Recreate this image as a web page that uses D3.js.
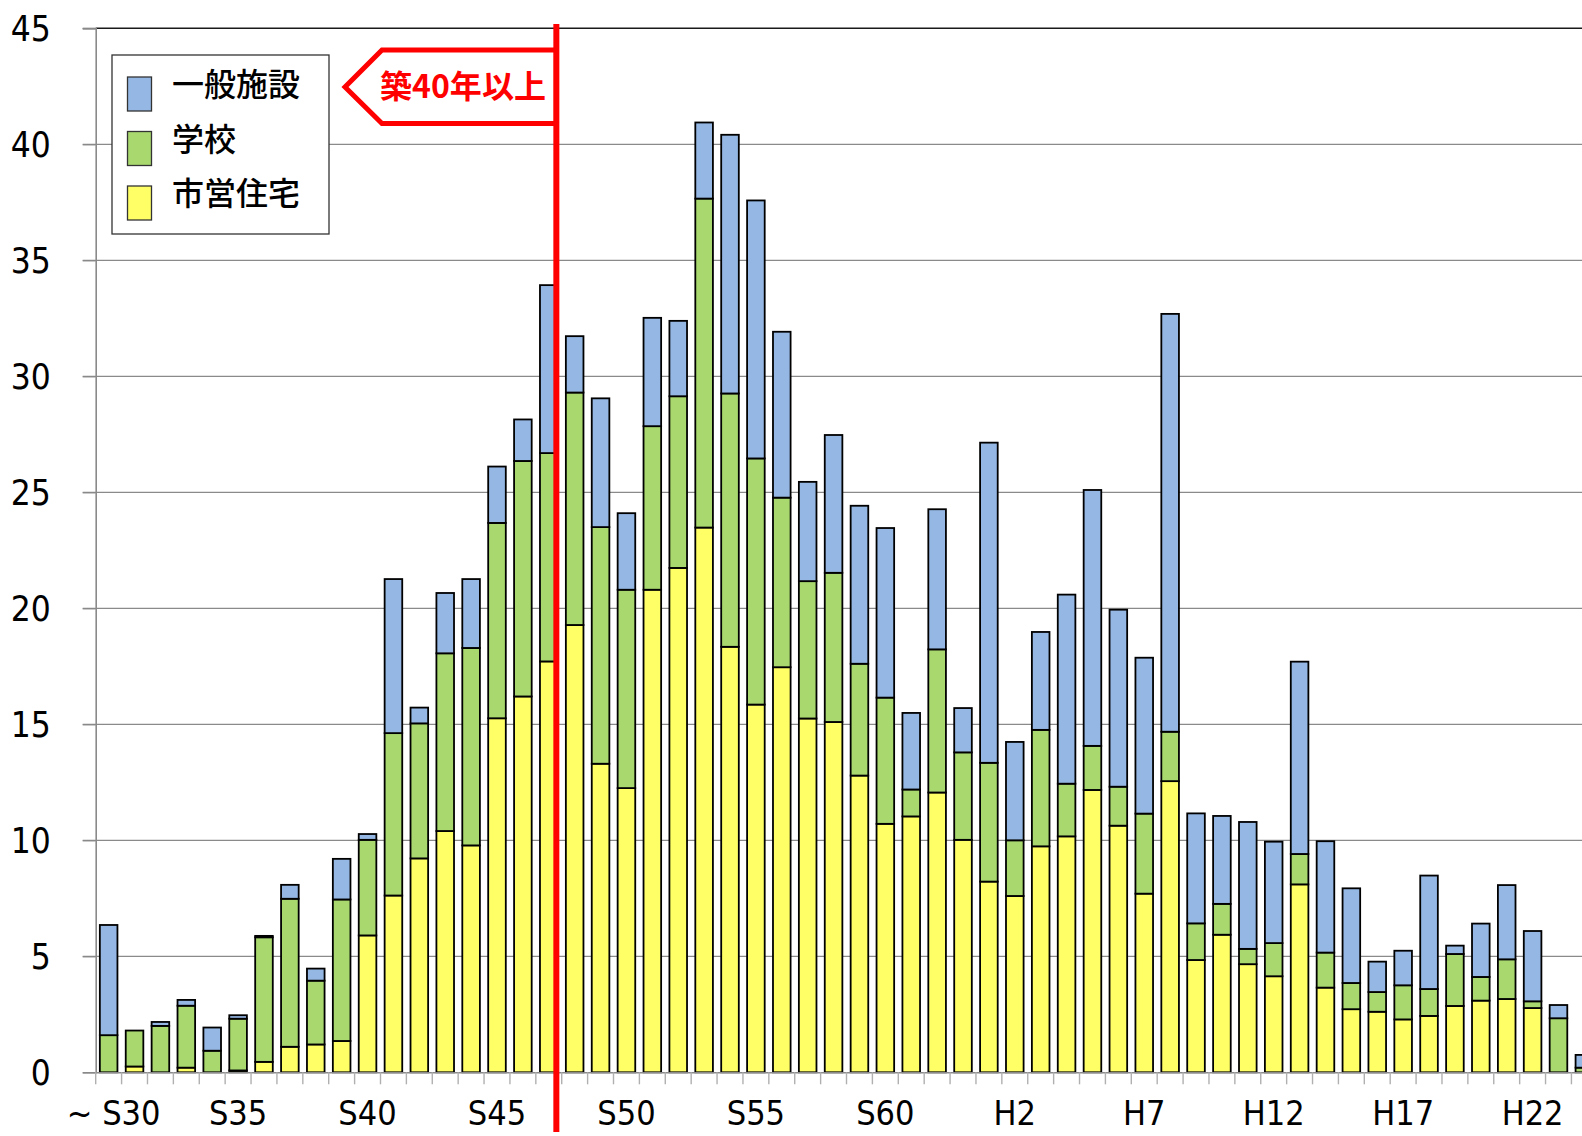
<!DOCTYPE html>
<html lang="ja">
<head>
  <meta charset="UTF-8">
  <title>建築年度別 延床面積</title>
  <script src="https://d3js.org/d3.v7.min.js"></script>
  <style>
    body { margin: 0; background: #fff; }
    svg { display: block; }
    .num { font-family: "DejaVu Sans Condensed", "Liberation Sans Narrow", "Liberation Sans", sans-serif; }
    .jp { font-family: "Noto Sans CJK JP", "Noto Sans", sans-serif; }
  </style>
</head>
<body>
<script>
  // categories (build year)
  const categories = [
    "S30","S31","S32","S33","S34","S35","S36","S37","S38","S39",
    "S40","S41","S42","S43","S44","S45","S46","S47","S48","S49",
    "S50","S51","S52","S53","S54","S55","S56","S57","S58","S59",
    "S60","S61","S62","S63","H1","H2","H3","H4","H5","H6",
    "H7","H8","H9","H10","H11","H12","H13","H14","H15","H16",
    "H17","H18","H19","H20","H21","H22","H23","H24"
  ];
  const tickCats = ["S30","S35","S40","S45","S50","S55","S60","H2","H7","H12","H17","H22"];
  const tickLabels = ["~ S30","S35","S40","S45","S50","S55","S60","H2","H7","H12","H17","H22"];

  // 市営住宅
  const housing = [
    0, 0.25, 0, 0.2, 0, 0.08, 0.45, 1.1, 1.2, 1.35,
    5.9, 7.62, 9.22, 10.4, 9.78, 15.26, 16.2, 17.71, 19.28, 13.3,
    12.25, 20.8, 21.74, 23.48, 18.34, 15.85, 17.46, 15.25, 15.1, 12.79,
    10.71, 11.03, 12.06, 10.02, 8.22, 7.6, 9.74, 10.17, 12.17, 10.63,
    7.7, 12.55, 4.84, 5.93, 4.66, 4.14, 8.1, 3.65, 2.72, 2.61,
    2.28, 2.43, 2.86, 3.09, 3.16, 2.77, 0, 0
  ];
  // 学校
  const school = [
    1.6, 1.55, 2.0, 2.67, 0.93, 2.23, 5.37, 6.38, 2.75, 6.1,
    4.12, 7.0, 5.82, 7.66, 8.51, 8.42, 10.15, 8.98, 10.02, 10.2,
    8.55, 7.05, 7.4, 14.18, 10.92, 10.61, 7.31, 5.92, 6.43, 4.82,
    5.44, 1.16, 6.17, 3.77, 5.12, 2.4, 5.02, 2.27, 1.9, 1.68,
    3.45, 2.13, 1.58, 1.33, 0.66, 1.43, 1.31, 1.51, 1.13, 0.85,
    1.47, 1.16, 2.24, 1.02, 1.71, 0.29, 2.33, 0.2
  ];
  // 一般施設
  const general = [
    4.75, 0, 0.17, 0.25, 1.0, 0.15, 0.06, 0.6, 0.52, 1.75,
    0.25, 6.64, 0.68, 2.6, 2.97, 2.43, 1.79, 7.24, 2.43, 5.55,
    3.3, 4.67, 3.25, 3.28, 11.15, 11.12, 7.15, 4.28, 5.94, 6.81,
    7.31, 3.3, 6.04, 1.91, 13.8, 4.24, 4.22, 8.15, 11.03, 7.63,
    6.72, 18.01, 4.74, 3.79, 5.47, 4.37, 8.29, 4.8, 4.08, 1.31,
    1.49, 4.89, 0.36, 2.3, 3.2, 3.03, 0.57, 0.55
  ];

  const seriesKeys = ["市営住宅", "学校", "一般施設"];
  const legendOrder = ["一般施設", "学校", "市営住宅"];
  const colors = { "市営住宅": "#ffff66", "学校": "#a8d86e", "一般施設": "#95b7e3" };
  const markLabel = "築40年以上";
  const markAfter = "S47";

  const W = 1582, H = 1136;
  const svg = d3.select("body").append("svg")
      .attr("width", W)
      .attr("height", H);

  const left = 95.7, step = 25.89;
  const x = d3.scaleBand()
      .domain(categories)
      .range([left, left + step * categories.length])
      .paddingInner(0.32)
      .paddingOuter(0.16);
  const y = d3.scaleLinear().domain([0, 45]).range([1072.3, 28.3]);

  const table = categories.map((c, i) => ({
    cat: c, "市営住宅": housing[i], "学校": school[i], "一般施設": general[i]
  }));
  const stacked = d3.stack().keys(seriesKeys)(table);

  // gridlines
  svg.append("g")
    .selectAll("line")
    .data(y.ticks(9).filter(d => d > 0 && d < 45))
    .join("line")
      .attr("x1", left - 13).attr("x2", W)
      .attr("y1", d => y(d)).attr("y2", d => y(d))
      .attr("stroke", "#8a8a8a")
      .attr("stroke-width", 1.3);

  // top border
  svg.append("line")
      .attr("x1", left - 13).attr("x2", left)
      .attr("y1", y(45)).attr("y2", y(45))
      .attr("stroke", "#8a8a8a").attr("stroke-width", 1.3);
  svg.append("line")
      .attr("x1", left).attr("x2", W)
      .attr("y1", y(45)).attr("y2", y(45))
      .attr("stroke", "#1a1a1a").attr("stroke-width", 1.6);

  // y axis
  const yAxis = svg.append("g")
      .attr("transform", `translate(${left},0)`)
      .call(d3.axisLeft(y).tickValues(d3.range(0, 46, 5)).tickSize(13).tickPadding(0));
  yAxis.select(".domain").attr("stroke", "#8a8a8a").attr("stroke-width", 1.6);
  yAxis.selectAll(".tick line").attr("stroke", "#8a8a8a").attr("stroke-width", 1.3);
  yAxis.selectAll(".tick text")
      .attr("class", "num")
      .attr("x", -45)
      .attr("dy", "0.34em")
      .attr("font-size", 35)
      .attr("fill", "#000");

  // bars
  svg.append("g")
    .selectAll("g")
    .data(stacked)
    .join("g")
      .attr("fill", d => colors[d.key])
    .selectAll("rect")
    .data(d => d.filter(s => s[1] - s[0] > 0))
    .join("rect")
      .attr("x", d => x(d.data.cat))
      .attr("y", d => y(d[1]))
      .attr("width", x.bandwidth())
      .attr("height", d => y(d[0]) - y(d[1]))
      .attr("stroke", "#000")
      .attr("stroke-width", 1.8);

  // x axis
  const xAxis = svg.append("g")
      .attr("transform", `translate(0,${y(0)})`)
      .call(d3.axisBottom(x).tickValues([]).tickSizeOuter(0));
  xAxis.select(".domain").attr("stroke", "#8a8a8a").attr("stroke-width", 1.6);
  svg.append("g")
    .selectAll("line")
    .data(categories.concat(["end"]))
    .join("line")
      .attr("x1", (d, i) => left + i * x.step())
      .attr("x2", (d, i) => left + i * x.step())
      .attr("y1", y(0)).attr("y2", y(0) + 12)
      .attr("stroke", "#b0b0b0")
      .attr("stroke-width", 1.4);
  svg.append("g")
    .selectAll("text")
    .data(tickCats)
    .join("text")
      .attr("class", "num")
      .attr("x", (d, i) => x(d) + x.bandwidth() / 2 + (i === 0 ? 5 : 0))
      .attr("y", 1125)
      .attr("text-anchor", "middle")
      .attr("font-size", 34)
      .attr("fill", "#000")
      .text((d, i) => tickLabels[i]);

  // legend
  const lg = svg.append("g");
  lg.append("rect")
      .attr("x", 112).attr("y", 55).attr("width", 217).attr("height", 179)
      .attr("fill", "#fff").attr("stroke", "#333").attr("stroke-width", 1.3);
  legendOrder.forEach((k, i) => {
    const top = 77 + i * 54.5;
    lg.append("rect")
        .attr("x", 127.5).attr("y", top).attr("width", 24).attr("height", 34)
        .attr("fill", colors[k]).attr("stroke", "#333").attr("stroke-width", 1.3);
    lg.append("text")
        .attr("class", "jp")
        .attr("x", 172).attr("y", top + 19)
        .attr("font-size", 32)
        .attr("font-weight", 500)
        .attr("fill", "#000")
        .text(k);
  });

  // 築40年以上 marker
  const lineX = x(markAfter) + x.bandwidth() * 0.93;
  svg.append("polygon")
      .attr("points", [[lineX, 50], [382, 50], [345, 87], [382, 123.5], [lineX, 123.5]].map(p => p.join(",")).join(" "))
      .attr("fill", "#fff")
      .attr("stroke", "#ff0000")
      .attr("stroke-width", 5)
      .attr("stroke-linejoin", "miter");
  svg.append("text")
      .attr("class", "jp")
      .attr("x", 463).attr("y", 98)
      .attr("text-anchor", "middle")
      .attr("font-size", 32)
      .attr("font-weight", "bold")
      .attr("fill", "#ff0000")
      .attr("textLength", 166)
      .attr("lengthAdjust", "spacingAndGlyphs")
      .text(markLabel);
  svg.append("line")
      .attr("x1", lineX).attr("x2", lineX)
      .attr("y1", 24).attr("y2", 1132)
      .attr("stroke", "#ff0000")
      .attr("stroke-width", 6);
</script>
</body>
</html>
